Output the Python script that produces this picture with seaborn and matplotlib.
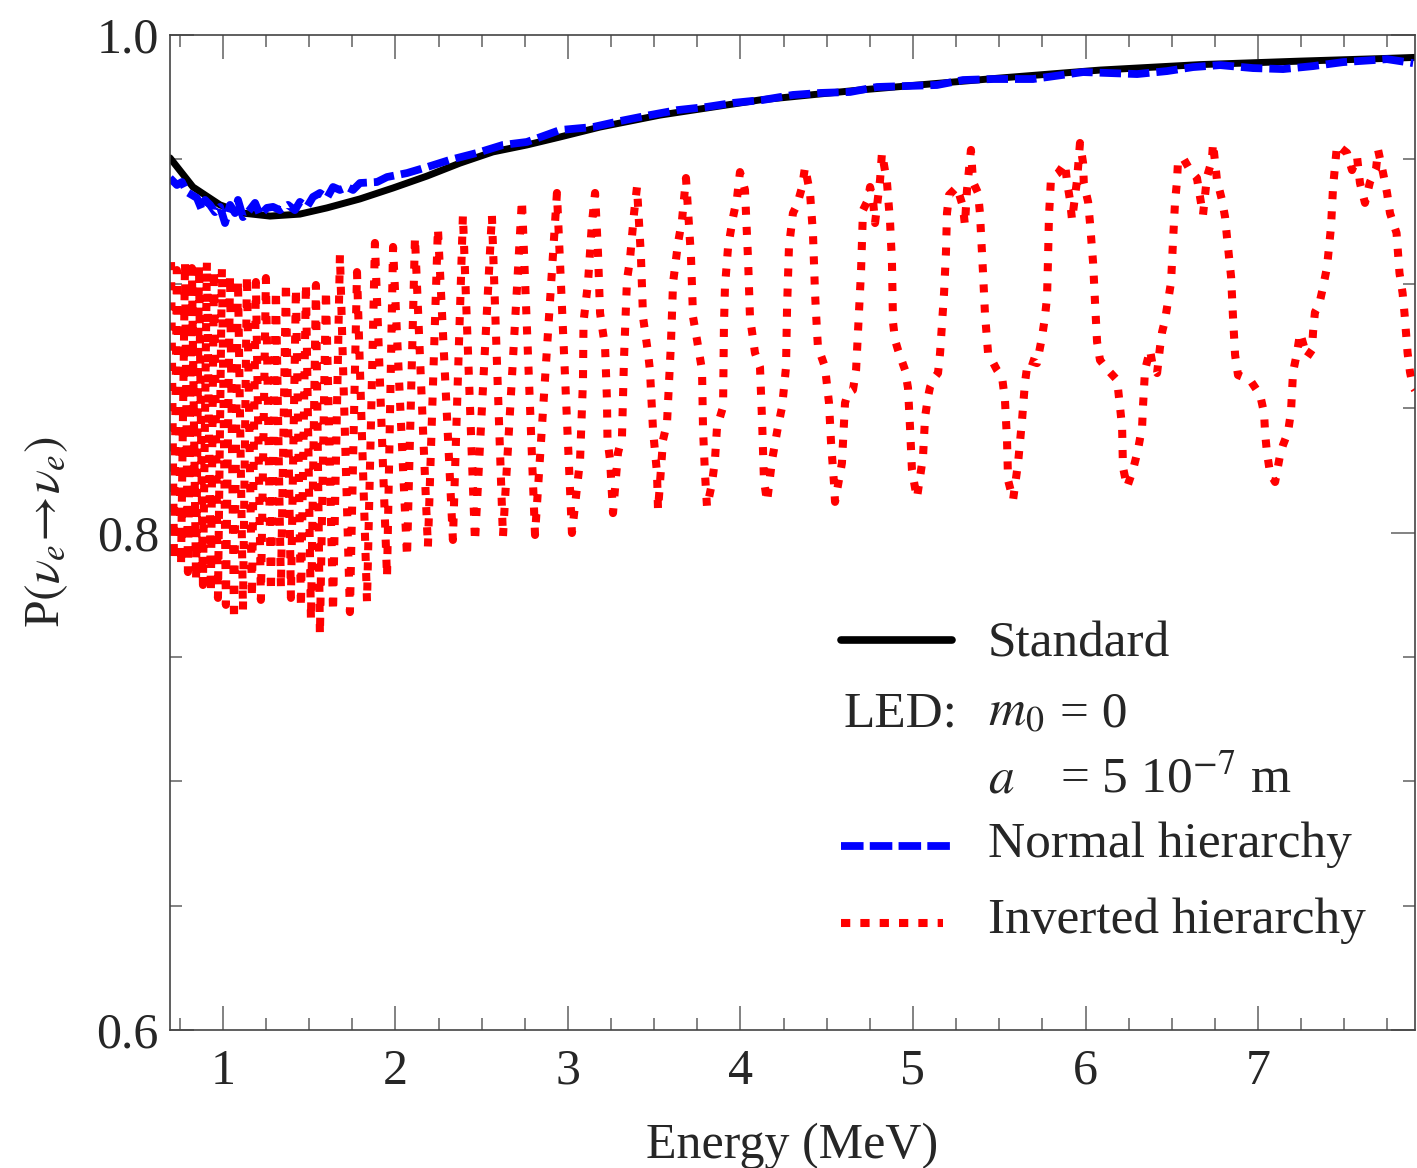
import matplotlib
matplotlib.use("Agg")
import matplotlib.pyplot as plt
import seaborn as sns
from matplotlib.lines import Line2D
from matplotlib.ticker import MultipleLocator, FixedLocator

# ---------------- data ----------------
std_E = [0.693, 0.826, 0.983, 1.116, 1.273, 1.446, 1.603, 1.794, 1.986, 2.183,
         2.374, 2.565, 2.762, 2.954, 3.186, 3.533, 4.113, 4.693, 5.504, 6.084,
         6.664, 7.244, 7.748, 7.910]
std_P = [0.9506, 0.9389, 0.9317, 0.9284, 0.9272, 0.9280, 0.9305, 0.9341, 0.9385, 0.9433,
         0.9485, 0.9530, 0.9558, 0.9590, 0.9630, 0.9678, 0.9739, 0.9779, 0.9827, 0.9859,
         0.9881, 0.9895, 0.9906, 0.9910]

nh_E = [0.693, 0.733, 0.762, 0.791, 0.820, 0.849, 0.878, 0.896, 0.925, 0.954,
        0.983, 1.012, 1.041, 1.070, 1.087, 1.116, 1.145, 1.186, 1.215, 1.255,
        1.290, 1.330, 1.377, 1.417, 1.446, 1.487, 1.522, 1.562, 1.603, 1.638,
        1.678, 1.719, 1.754, 1.794, 1.893, 1.951, 2.067, 2.183, 2.316, 2.473,
        2.623, 2.762, 2.954, 3.145, 3.301, 3.475, 3.632, 3.806, 3.957, 4.130,
        4.304, 4.461, 4.635, 4.791, 4.965, 5.139, 5.290, 5.464, 5.696, 5.986,
        6.142, 6.299, 6.473, 6.623, 6.780, 6.971, 7.145, 7.319, 7.493, 7.667,
        7.748, 7.899]
nh_P = [0.9425, 0.9397, 0.9409, 0.9369, 0.9357, 0.9345, 0.9296, 0.9337, 0.9317, 0.9288,
        0.9309, 0.9244, 0.9317, 0.9284, 0.9337, 0.9268, 0.9288, 0.9325, 0.9276, 0.9305,
        0.9309, 0.9296, 0.9317, 0.9296, 0.9329, 0.9309, 0.9349, 0.9365, 0.9345, 0.9389,
        0.9377, 0.9389, 0.9377, 0.9405, 0.9409, 0.9429, 0.9445, 0.9469, 0.9498, 0.9526,
        0.9558, 0.9570, 0.9618, 0.9630, 0.9654, 0.9678, 0.9698, 0.9711, 0.9727, 0.9739,
        0.9759, 0.9767, 0.9771, 0.9791, 0.9795, 0.9799, 0.9819, 0.9823, 0.9823, 0.9851,
        0.9847, 0.9843, 0.9855, 0.9871, 0.9879, 0.9867, 0.9863, 0.9875, 0.9891, 0.9899,
        0.9903, 0.9887]

ih_E = [0.699, 0.716, 0.733, 0.757, 0.780, 0.797, 0.820, 0.844, 0.861, 0.884,
        0.907, 0.930, 0.948, 0.971, 0.994, 1.017, 1.041, 1.064, 1.087, 1.116,
        1.139, 1.168, 1.191, 1.220, 1.249, 1.278, 1.307, 1.336, 1.365, 1.394,
        1.423, 1.452, 1.481, 1.510, 1.539, 1.562, 1.597, 1.638,
        1.678, 1.736, 1.777, 1.835, 1.881, 1.951, 1.986, 2.067, 2.113, 2.188,
        2.246, 2.333, 2.391, 2.461, 2.559, 2.623, 2.733, 2.809, 2.936, 3.023,
        3.070, 3.087, 3.090, 3.116, 3.139, 3.157, 3.174, 3.186, 3.215, 3.226,
        3.229, 3.244, 3.261, 3.290, 3.313, 3.325, 3.342, 3.359, 3.383, 3.400,
        3.423, 3.435, 3.464, 3.475, 3.493, 3.516, 3.522, 3.551, 3.574, 3.597,
        3.609, 3.638, 3.661, 3.684, 3.713, 3.725, 3.748, 3.777, 3.783, 3.794,
        3.806, 3.835, 3.852, 3.864, 3.899, 3.904, 3.910, 3.928, 3.957, 3.980,
        3.997, 4.026, 4.044, 4.055, 4.084, 4.113, 4.116, 4.125, 4.136, 4.154,
        4.183, 4.217, 4.241, 4.264, 4.270, 4.281, 4.304, 4.328, 4.357, 4.374,
        4.403, 4.420, 4.432, 4.444, 4.449, 4.490, 4.513, 4.525, 4.542, 4.548,
        4.588, 4.606, 4.623, 4.652, 4.670, 4.687, 4.699, 4.710, 4.739, 4.751,
        4.768, 4.780, 4.809, 4.820, 4.849, 4.867, 4.878, 4.884, 4.896, 4.913,
        4.954, 4.971, 4.983, 4.994, 5.012, 5.023, 5.041, 5.058, 5.070, 5.087,
        5.099, 5.128, 5.145, 5.157, 5.180, 5.191, 5.197, 5.209, 5.255, 5.290,
        5.301, 5.313, 5.336, 5.348, 5.377, 5.388, 5.406, 5.417, 5.435, 5.487,
        5.516, 5.533, 5.545, 5.551, 5.580, 5.609, 5.632, 5.649, 5.667, 5.719,
        5.748, 5.765, 5.777, 5.783, 5.788, 5.800, 5.841, 5.881, 5.893, 5.910,
        5.922, 5.951, 5.968, 5.986, 5.990, 6.015, 6.026, 6.044, 6.055, 6.067,
        6.084, 6.130, 6.183, 6.200, 6.212, 6.217, 6.241, 6.275, 6.304, 6.328,
        6.333, 6.345, 6.374, 6.391, 6.415, 6.432, 6.444, 6.461, 6.478, 6.496,
        6.507, 6.519, 6.530, 6.536, 6.565, 6.606, 6.646, 6.664, 6.681, 6.704,
        6.733, 6.739, 6.762, 6.791, 6.809, 6.820, 6.844, 6.855, 6.867, 6.884,
        6.954, 7.012, 7.035, 7.041, 7.052, 7.070, 7.099, 7.128, 7.145, 7.174,
        7.191, 7.203, 7.226, 7.244, 7.284, 7.313, 7.319, 7.330, 7.354, 7.377,
        7.400, 7.423, 7.435, 7.458, 7.516, 7.545, 7.574, 7.591, 7.620, 7.649,
        7.684, 7.696, 7.725, 7.748, 7.765, 7.803, 7.820, 7.838, 7.849, 7.867,
        7.881, 7.899, 7.910]
ih_P = [0.9087, 0.7889, 0.9055, 0.7869, 0.9087, 0.7841, 0.9063, 0.7809, 0.9075, 0.7789,
        0.9087, 0.7761, 0.9055, 0.7737, 0.9063, 0.7709, 0.9035, 0.7648, 0.9015, 0.7688,
        0.9035, 0.7737, 0.9007, 0.7729, 0.9023, 0.7761, 0.8975, 0.7777, 0.9007, 0.7737,
        0.8983, 0.7697, 0.9003, 0.7648, 0.8995, 0.7588, 0.8975, 0.7680,
        0.9116, 0.7680, 0.9047, 0.7721, 0.9164, 0.7821, 0.9148, 0.7901, 0.9188, 0.7942,
        0.9224, 0.7970, 0.9276, 0.7962, 0.9276, 0.7982, 0.9337, 0.7990, 0.9365, 0.7998,
        0.8291, 0.8613, 0.8846, 0.9003, 0.9244, 0.9365, 0.9124, 0.8882, 0.8746, 0.8533,
        0.8372, 0.8291, 0.8078, 0.8320, 0.8384, 0.8705, 0.9015, 0.9095, 0.9284, 0.9389,
        0.9108, 0.8866, 0.8722, 0.8653, 0.8412, 0.8239, 0.8090, 0.8372, 0.8440, 0.8762,
        0.9003, 0.9164, 0.9256, 0.9425, 0.9108, 0.8866, 0.8774, 0.8653, 0.8412, 0.8239,
        0.8102, 0.8199, 0.8291, 0.8424, 0.8505, 0.8826, 0.8987, 0.9148, 0.9268, 0.9345,
        0.9449, 0.9377, 0.9095, 0.8866, 0.8722, 0.8665, 0.8613, 0.8452, 0.8211, 0.8123,
        0.8291, 0.8424, 0.8505, 0.8665, 0.8906, 0.9148, 0.9284, 0.9317, 0.9389, 0.9469,
        0.9365, 0.9204, 0.8963, 0.8802, 0.8746, 0.8665, 0.8521, 0.8360, 0.8199, 0.8123,
        0.8279, 0.8521, 0.8561, 0.8573, 0.8653, 0.8894, 0.9055, 0.9296, 0.9337, 0.9389,
        0.9337, 0.9244, 0.9417, 0.9526, 0.9409, 0.9248, 0.9087, 0.8846, 0.8774, 0.8734,
        0.8653, 0.8581, 0.8420, 0.8251, 0.8179, 0.8139, 0.8223, 0.8304, 0.8464, 0.8545,
        0.8585, 0.8626, 0.8641, 0.8722, 0.8963, 0.9124, 0.9284, 0.9357, 0.9389, 0.9309,
        0.9236, 0.9377, 0.9538, 0.9409, 0.9365, 0.9284, 0.9043, 0.8882, 0.8722, 0.8653,
        0.8626, 0.8533, 0.8372, 0.8211, 0.8131, 0.8279, 0.8452, 0.8602, 0.8693, 0.8681,
        0.8786, 0.8866, 0.8947, 0.9108, 0.9268, 0.9425, 0.9445, 0.9485, 0.9409, 0.9337,
        0.9256, 0.9417, 0.9566, 0.9485, 0.9405, 0.9329, 0.9244, 0.9084, 0.8927, 0.8766,
        0.8693, 0.8653, 0.8613, 0.8505, 0.8424, 0.8263, 0.8183, 0.8251, 0.8332, 0.8424,
        0.8505, 0.8653, 0.8734, 0.8665, 0.8641, 0.8746, 0.8806, 0.8854, 0.8927, 0.9007,
        0.9168, 0.9329, 0.9409, 0.9490, 0.9506, 0.9457, 0.9425, 0.9349, 0.9276, 0.9429,
        0.9498, 0.9566, 0.9417, 0.9337, 0.9268, 0.9188, 0.9027, 0.8866, 0.8714, 0.8633,
        0.8613, 0.8553, 0.8481, 0.8400, 0.8320, 0.8239, 0.8203, 0.8312, 0.8352, 0.8404,
        0.8484, 0.8645, 0.8722, 0.8802, 0.8705, 0.8734, 0.8806, 0.8886, 0.8915, 0.8987,
        0.9067, 0.9228, 0.9389, 0.9558, 0.9526, 0.9457, 0.9510, 0.9405, 0.9325, 0.9409,
        0.9461, 0.9538, 0.9445, 0.9365, 0.9284, 0.9204, 0.9043, 0.8963, 0.8882, 0.8722,
        0.8645, 0.8585, 0.8573]

x_major = [1, 2, 3, 4, 5, 6, 7]
y_major = [0.6, 0.8, 1.0]
y_labels = ["0.6", "0.8", "1.0"]

# ---------------- style ----------------
sns.set_style("ticks")
plt.rcParams['font.family'] = ['Liberation Serif', 'DejaVu Serif']
plt.rcParams['mathtext.fontset'] = 'stix'

fig = plt.figure(figsize=(14.17, 11.68), dpi=100)
ax = fig.add_axes([0.11997, 0.11815, 0.87862, 0.85188])

sns.lineplot(x=std_E, y=std_P, ax=ax, color='black', lw=5.0,
             sort=False, estimator=None)
sns.lineplot(x=nh_E, y=nh_P, ax=ax, color='#0000ff', lw=5.6,
             linestyle=(0, (2.75, 0.9)), dash_capstyle='butt',
             sort=False, estimator=None)
sns.lineplot(x=ih_E, y=ih_P, ax=ax, color='#ff0000', lw=5.8,
             linestyle=(0, (1.0, 1.5)), dash_capstyle='butt',
             sort=False, estimator=None)

ax.set_xlim(0.693, 7.91)
ax.set_ylim(0.6, 1.0)
ax.xaxis.set_major_locator(FixedLocator(x_major))
ax.xaxis.set_minor_locator(MultipleLocator(0.25))
ax.yaxis.set_major_locator(FixedLocator(y_major))
ax.yaxis.set_minor_locator(MultipleLocator(0.05))
ax.set_yticklabels(y_labels)

ax.tick_params(which='both', direction='in', top=True, right=True,
               color='#606060', width=1.1)
ax.tick_params(which='major', length=17, labelsize=36, pad=8)
ax.tick_params(axis='x', which='major', pad=13)
ax.tick_params(which='minor', length=8.6)
for s in ax.spines.values():
    s.set_linewidth(1.2)
    s.set_color('#444444')

ax.set_xlabel('Energy (MeV)', fontsize=36, labelpad=20)
ax.set_ylabel(r'P$(\nu_e\!\rightarrow\!\nu_e)$', fontsize=36, labelpad=19)

# ---------------- legend (manual) ----------------
tr = ax.transAxes
ax.add_line(Line2D([0.539, 0.628], [0.392, 0.392], transform=tr,
                   color='black', lw=5.5))
ax.add_line(Line2D([0.539, 0.628], [0.185, 0.185], transform=tr,
                   color='#0000ff', lw=5.6, linestyle=(0, (2.9, 0.8)),
                   dash_capstyle='butt'))
ax.add_line(Line2D([0.539, 0.621], [0.1075, 0.1075], transform=tr,
                   color='#ff0000', lw=5.8, linestyle=(0, (1.15, 1.25)),
                   dash_capstyle='butt'))

fs = 37
tx = 0.657
ax.text(tx, 0.3752, 'Standard', transform=tr, fontsize=fs, va='baseline')
ax.text(0.5406, 0.3055, 'LED:', transform=tr, fontsize=fs, va='baseline')
ax.text(tx, 0.3055, r'$m_0$', transform=tr, fontsize=fs, va='baseline')
ax.text(0.7149, 0.3055, '= 0', transform=tr, fontsize=fs, va='baseline')
ax.text(tx, 0.2382, r'$a$', transform=tr, fontsize=fs, va='baseline')
ax.text(0.7149, 0.2382, r'= 5 10$^{-7}$ m', transform=tr, fontsize=fs, va='baseline')
ax.text(tx, 0.1742, 'Normal hierarchy', transform=tr, fontsize=fs, va='baseline')
ax.text(tx, 0.0975, 'Inverted hierarchy', transform=tr, fontsize=fs, va='baseline')

fig.savefig('out.png', dpi=100)
